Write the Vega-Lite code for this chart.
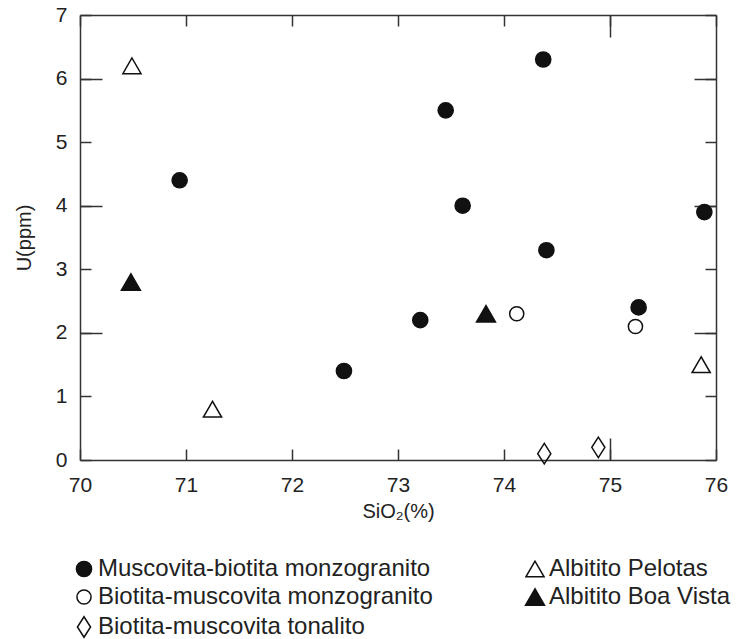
{
  "$schema": "https://vega.github.io/schema/vega-lite/v6.json",
  "autosize": "none",
  "width": 636,
  "height": 445,
  "padding": {"left": 80, "top": 15, "right": 40, "bottom": 179},
  "background": "white",
  "config": {
    "view": {"stroke": null},
    "font": "Liberation Sans",
    "axis": {"grid": false, "domainColor": "#333", "domainWidth": 1.5, "tickColor": "#333", "tickWidth": 1.5, "labelColor": "#222", "titleColor": "#222", "labelFont": "Liberation Sans", "titleFont": "Liberation Sans", "titleFontWeight": "normal"}
  },
  "data": {
    "values": [
      {"x": 70.94, "u": 4.4, "g": "Muscovita-biotita monzogranito"},
      {"x": 73.45, "u": 5.5, "g": "Muscovita-biotita monzogranito"},
      {"x": 74.37, "u": 6.3, "g": "Muscovita-biotita monzogranito"},
      {"x": 73.61, "u": 4.0, "g": "Muscovita-biotita monzogranito"},
      {"x": 74.40, "u": 3.3, "g": "Muscovita-biotita monzogranito"},
      {"x": 73.21, "u": 2.2, "g": "Muscovita-biotita monzogranito"},
      {"x": 72.49, "u": 1.4, "g": "Muscovita-biotita monzogranito"},
      {"x": 75.89, "u": 3.9, "g": "Muscovita-biotita monzogranito"},
      {"x": 75.27, "u": 2.4, "g": "Muscovita-biotita monzogranito"},
      {"x": 74.12, "u": 2.3, "g": "Biotita-muscovita monzogranito"},
      {"x": 75.24, "u": 2.1, "g": "Biotita-muscovita monzogranito"},
      {"x": 74.38, "u": 0.1, "g": "Biotita-muscovita tonalito"},
      {"x": 74.89, "u": 0.2, "g": "Biotita-muscovita tonalito"},
      {"x": 70.49, "u": 6.2, "g": "Albitito Pelotas"},
      {"x": 71.25, "u": 0.8, "g": "Albitito Pelotas"},
      {"x": 75.86, "u": 1.5, "g": "Albitito Pelotas"},
      {"x": 70.48, "u": 2.8, "g": "Albitito Boa Vista"},
      {"x": 73.83, "u": 2.3, "g": "Albitito Boa Vista"}
    ]
  },
  "resolve": {"axis": {"x": "independent", "y": "independent"}},
  "layer": [
    {
      "mark": {"type": "point", "filled": true, "stroke": "#111", "strokeWidth": 1.5, "opacity": 1},
      "encoding": {
        "x": {"field": "x", "type": "quantitative", "scale": {"domain": [70, 76], "nice": false, "zero": false},
          "axis": {"orient": "bottom", "title": "SiO₂(%)", "titleFontSize": 20, "titlePadding": 6, "values": [70, 71, 72, 73, 74, 75, 76], "tickSize": -11, "labelFontSize": 21, "labelPadding": 25, "labelFlush": false}},
        "y": {"field": "u", "type": "quantitative", "scale": {"domain": [0, 7], "nice": false, "zero": true},
          "axis": {"orient": "left", "title": "U(ppm)", "titleFontSize": 20, "titlePadding": 21, "values": [0, 1, 2, 3, 4, 5, 6, 7], "tickSize": -11, "labelFontSize": 21, "labelPadding": 24, "labelFlush": false}},
        "shape": {"field": "g", "type": "nominal", "title": null,
          "scale": {"domain": ["Muscovita-biotita monzogranito", "Biotita-muscovita monzogranito", "Biotita-muscovita tonalito", "Albitito Pelotas", "Albitito Boa Vista"],
            "range": ["circle", "circle", "M0,-1L0.64,0L0,1L-0.64,0Z", "triangle-up", "triangle-up"]},
          "legend": {"orient": "none", "legendX": -8, "legendY": 542, "columns": 2, "labelFontSize": 24, "labelColor": "#222", "labelLimit": 500, "rowPadding": 4, "columnPadding": 89, "labelOffset": 2, "symbolStrokeColor": "#111", "symbolStrokeWidth": 1.5}},
        "fill": {"field": "g", "type": "nominal", "title": null,
          "scale": {"domain": ["Muscovita-biotita monzogranito", "Biotita-muscovita monzogranito", "Biotita-muscovita tonalito", "Albitito Pelotas", "Albitito Boa Vista"],
            "range": ["#111", "transparent", "transparent", "transparent", "#111"]}},
        "size": {"field": "g", "type": "nominal", "title": null,
          "scale": {"type": "ordinal", "domain": ["Muscovita-biotita monzogranito", "Biotita-muscovita monzogranito", "Biotita-muscovita tonalito", "Albitito Pelotas", "Albitito Boa Vista"],
            "range": [230, 200, 420, 330, 360]}}
      }
    },
    {
      "mark": {"type": "point", "opacity": 0},
      "encoding": {
        "x": {"field": "x", "type": "quantitative", "scale": {"domain": [70, 76], "nice": false, "zero": false},
          "axis": {"orient": "top", "title": null, "labels": false, "values": [70, 71, 72, 73, 74, 75, 76], "tickSize": -11}},
        "y": {"field": "u", "type": "quantitative", "scale": {"domain": [0, 7], "nice": false, "zero": true},
          "axis": {"orient": "right", "title": null, "labels": false, "values": [0, 1, 2, 3, 4, 5, 6, 7], "tickSize": -11}}
      }
    },
    {
      "mark": {"type": "point", "opacity": 0},
      "encoding": {
        "x": {"field": "x", "type": "quantitative", "scale": {"domain": [70, 76], "nice": false, "zero": false},
          "axis": {"orient": "bottom", "title": null, "labels": false, "domain": false, "values": [75], "tickSize": -22}},
        "y": {"field": "u", "type": "quantitative", "scale": {"domain": [0, 7], "nice": false, "zero": true},
          "axis": {"orient": "left", "title": null, "labels": false, "domain": false, "values": [2, 4, 6], "tickSize": -22}}
      }
    },
    {
      "mark": {"type": "point", "opacity": 0},
      "encoding": {
        "x": {"field": "x", "type": "quantitative", "scale": {"domain": [70, 76], "nice": false, "zero": false},
          "axis": {"orient": "top", "title": null, "labels": false, "domain": false, "values": [75], "tickSize": -22}},
        "y": {"field": "u", "type": "quantitative", "scale": {"domain": [0, 7], "nice": false, "zero": true},
          "axis": {"orient": "right", "title": null, "labels": false, "domain": false, "values": [2, 4, 6], "tickSize": -22}}
      }
    }
  ]
}
